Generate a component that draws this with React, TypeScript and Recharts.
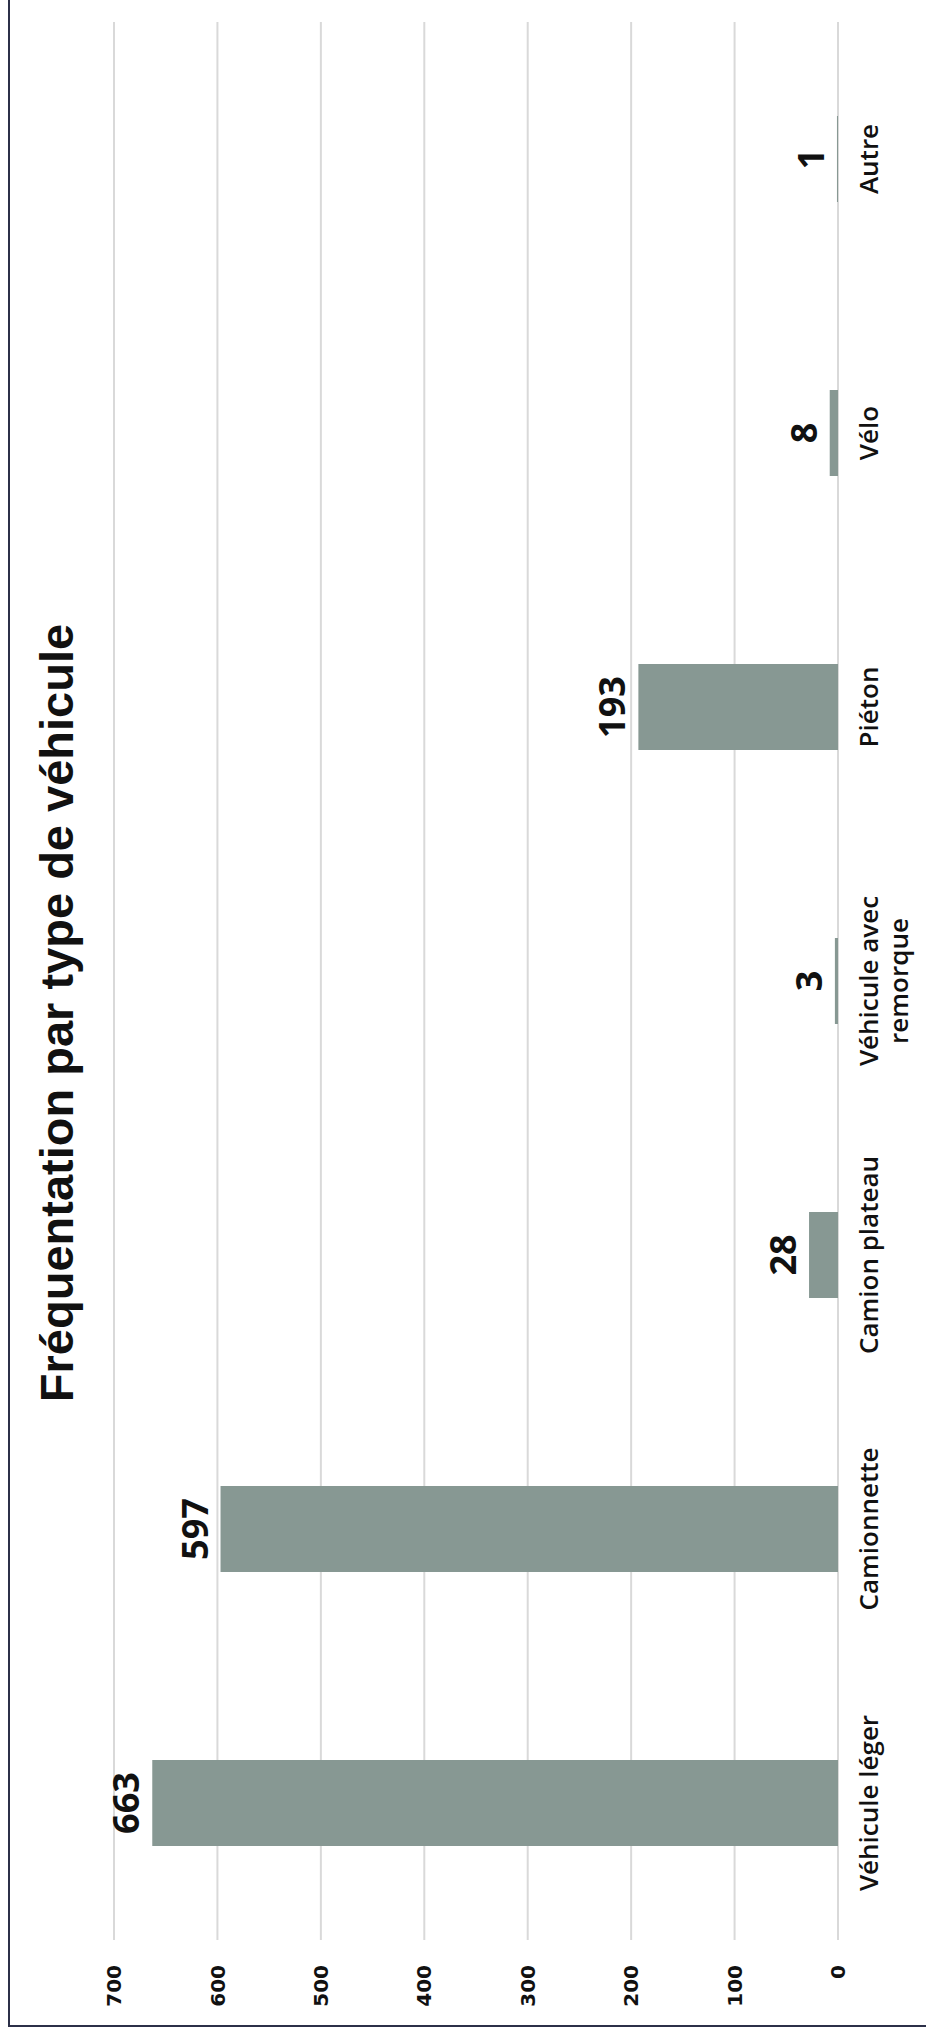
import React from 'react';
import { BarChart, Bar, XAxis, YAxis, CartesianGrid, LabelList } from 'recharts';

const categories = [
  'Véhicule léger',
  'Camionnette',
  'Camion plateau',
  'Véhicule avec remorque',
  'Piéton',
  'Vélo',
  'Autre',
];
const counts = [663, 597, 28, 3, 193, 8, 1];
const valueTicks = [0, 100, 200, 300, 400, 500, 600, 700];
const title = 'Fréquentation par type de véhicule';

const chartData = categories.map((name, i) => ({ name, value: counts[i] }));

// the original is a landscape chart, turned a quarter to the left on the page
const W = 2035;
const H = 926;

const wrapLabel = (label: string, maxChars = 15): string[] => {
  const lines: string[] = [];
  let current = '';
  label.split(' ').forEach((word) => {
    const next = current ? `${current} ${word}` : word;
    if (next.length > maxChars && current) {
      lines.push(current);
      current = word;
    } else {
      current = next;
    }
  });
  if (current) lines.push(current);
  return lines;
};

const CategoryTick = (props: any) => {
  const { x, y, payload } = props;
  const lines = wrapLabel(String(payload.value));
  return (
    <text
      x={x}
      y={y + 40}
      textAnchor="middle"
      fill="#111"
      fontSize={26}
      fontWeight={600}
      fontFamily="'Open Sans', sans-serif"
    >
      {lines.map((line, i) => (
        <tspan key={i} x={x} dy={i === 0 ? 0 : 30}>
          {line}
        </tspan>
      ))}
    </text>
  );
};

export default function App() {
  return (
    <div
      style={{
        position: 'absolute',
        left: 0,
        top: 0,
        width: H,
        height: W,
        overflow: 'hidden',
        background: '#fff',
      }}
    >
      <div
        style={{
          position: 'absolute',
          left: 0,
          top: 0,
          width: W,
          height: H,
          transformOrigin: '0 0',
          transform: `translate(0px, ${W}px) rotate(-90deg)`,
          background: '#fff',
        }}
      >
        <div
          style={{
            position: 'absolute',
            left: 8,
            top: 8,
            width: W + 40,
            height: H + 40,
            borderLeft: '2.5px solid #2c3048',
            borderTop: '2.5px solid #2c3048',
          }}
        />
        <div
          style={{
            position: 'absolute',
            left: 0,
            top: 31,
            width: W + 9,
            textAlign: 'center',
            fontFamily: "'Liberation Sans', Arial, sans-serif",
            fontWeight: 700,
            fontSize: 47,
            lineHeight: '51px',
            color: '#111',
          }}
        >
          {title}
        </div>
        <div style={{ position: 'absolute', left: 0, top: 0 }}>
          <BarChart
            width={W}
            height={H}
            data={chartData}
            margin={{ top: 114, right: 22, left: 0, bottom: 0 }}
          >
            <CartesianGrid vertical={false} stroke="#d9d9d9" strokeWidth={2} />
            <XAxis
              dataKey="name"
              height={88}
              axisLine={false}
              tickLine={false}
              tickSize={0}
              tickMargin={0}
              interval={0}
              tick={<CategoryTick />}
            />
            <YAxis
              width={95}
              domain={[0, 700]}
              ticks={valueTicks}
              axisLine={false}
              tickLine={false}
              tickSize={0}
              tickMargin={25}
              tick={{
                fontSize: 20,
                fontWeight: 700,
                fill: '#111',
                fontFamily: "'DejaVu Sans', sans-serif",
              }}
            />
            <Bar dataKey="value" fill="#879893" barSize={86} isAnimationActive={false}>
              <LabelList
                dataKey="value"
                position="top"
                offset={13}
                fill="#111"
                fontSize={36}
                fontWeight={700}
                fontFamily="'Open Sans', sans-serif"
              />
            </Bar>
          </BarChart>
        </div>
      </div>
    </div>
  );
}
